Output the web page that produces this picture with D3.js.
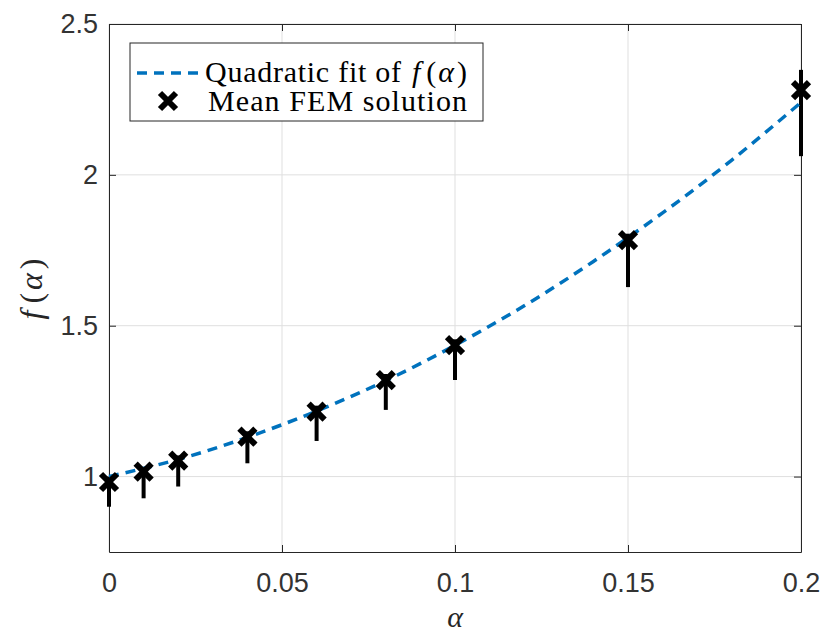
<!DOCTYPE html>
<html>
<head>
<meta charset="utf-8">
<script src="https://cdn.jsdelivr.net/npm/d3@7"></script>
<style>
  body { margin: 0; background: #fff; }
  svg { display: block; }
</style>
</head>
<body>
<div id="graph"></div>
<script>
// alpha values where the FEM was solved
const alphas = [0, 0.01, 0.02, 0.04, 0.06, 0.08, 0.1, 0.15, 0.2];
const meanF = [0.982, 1.016, 1.053, 1.132, 1.215, 1.320, 1.436, 1.784, 2.281];
const lowerF = [0.900, 0.928, 0.967, 1.044, 1.118, 1.221, 1.320, 1.628, 2.062];
const upperF = [1.000, 1.032, 1.070, 1.150, 1.235, 1.340, 1.455, 1.805, 2.348];

// quadratic fit
const fitAlpha = [0, 0.02, 0.04, 0.06, 0.08, 0.1, 0.12, 0.14, 0.16, 0.18, 0.2];
const fitF = [1.0, 1.057, 1.130, 1.217, 1.318, 1.435, 1.566, 1.713, 1.874, 2.049, 2.24];

const xTicks = [0, 0.05, 0.1, 0.15, 0.2];
const yTicks = [1, 1.5, 2, 2.5];

const width = 827, height = 634;
const plotL = 109, plotR = 801, plotT = 24, plotB = 552;

const svg = d3.select('#graph').html("")
  .append('svg')
  .attr('width', width)
  .attr('height', height);

const x = d3.scaleLinear().domain([0, 0.2]).range([plotL, plotR]);
const y = d3.scaleLinear().domain([0.75, 2.5]).range([plotB, plotT]);

const axisCol = '#262626';
const serif = '"Liberation Serif", "DejaVu Serif", serif';

// grid
svg.append('g').selectAll('line.gx')
  .data(xTicks).enter().append('line')
  .attr('x1', d => x(d)).attr('x2', d => x(d))
  .attr('y1', plotT).attr('y2', plotB)
  .attr('stroke', '#dfdfdf').attr('stroke-width', 1);
svg.append('g').selectAll('line.gy')
  .data(yTicks).enter().append('line')
  .attr('x1', plotL).attr('x2', plotR)
  .attr('y1', d => y(d)).attr('y2', d => y(d))
  .attr('stroke', '#dfdfdf').attr('stroke-width', 1);

// axes, ticks pointing inward
const tickFont = g => g.selectAll('text')
  .attr('font-family', '"Liberation Sans", Arial, sans-serif')
  .attr('font-size', 27)
  .attr('fill', '#333');

svg.append('g')
  .attr('transform', `translate(0,${plotB})`)
  .call(d3.axisBottom(x).tickValues(xTicks).tickFormat(d3.format('')).tickSizeInner(-7).tickSizeOuter(0).tickPadding(21))
  .call(g => g.select('.domain').attr('stroke', axisCol))
  .call(g => g.selectAll('line').attr('stroke', axisCol))
  .call(tickFont);

svg.append('g')
  .attr('transform', `translate(0,${plotT})`)
  .call(d3.axisTop(x).tickValues(xTicks).tickFormat('').tickSizeInner(-7).tickSizeOuter(0))
  .call(g => g.select('.domain').attr('stroke', axisCol))
  .call(g => g.selectAll('line').attr('stroke', axisCol));

svg.append('g')
  .attr('transform', `translate(${plotL},0)`)
  .call(d3.axisLeft(y).tickValues(yTicks).tickFormat(d3.format('')).tickSizeInner(-7).tickSizeOuter(0).tickPadding(11))
  .call(g => g.select('.domain').attr('stroke', axisCol))
  .call(g => g.selectAll('line').attr('stroke', axisCol))
  .call(tickFont);

svg.append('g')
  .attr('transform', `translate(${plotR},0)`)
  .call(d3.axisRight(y).tickValues(yTicks).tickFormat('').tickSizeInner(-7).tickSizeOuter(0))
  .call(g => g.select('.domain').attr('stroke', axisCol))
  .call(g => g.selectAll('line').attr('stroke', axisCol));

// error bars
svg.append('g').selectAll('line.err')
  .data(alphas).enter().append('line')
  .attr('x1', d => x(d)).attr('x2', d => x(d))
  .attr('y1', (d, i) => y(lowerF[i]))
  .attr('y2', (d, i) => y(upperF[i]))
  .attr('stroke', '#000').attr('stroke-width', 4);

// quadratic fit
const line = d3.line()
  .x(d => x(d[0]))
  .y(d => y(d[1]))
  .curve(d3.curveNatural);
svg.append('path')
  .datum(fitAlpha.map((a, i) => [a, fitF[i]]))
  .attr('d', line)
  .attr('fill', 'none')
  .attr('stroke', '#0072BD')
  .attr('stroke-width', 3.5)
  .attr('stroke-dasharray', '10,7');

// markers
const cross = 'M-8,-8L8,8M-8,8L8,-8';
svg.append('g').selectAll('path.mk')
  .data(alphas).enter().append('path')
  .attr('d', cross)
  .attr('transform', (d, i) => `translate(${x(d)},${y(meanF[i])})`)
  .attr('stroke', '#000').attr('stroke-width', 6).attr('fill', 'none');

// mixed upright/italic text as separate pieces laid side by side
function mathText(g, parts, size, col) {
  let cx = 0;
  parts.forEach(([s, it, gap, fit]) => {
    cx += gap || 0;
    const t = g.append('text')
      .attr('x', cx).attr('y', 0)
      .attr('font-family', serif).attr('font-size', size).attr('fill', col)
      .attr('font-style', it ? 'italic' : 'normal')
      .text(s);
    if (fit) t.attr('textLength', fit).attr('lengthAdjust', 'spacing');
    cx += fit || t.node().getComputedTextLength();
  });
  return cx;
}

// legend
const lg = svg.append('g');
lg.append('rect')
  .attr('x', 130).attr('y', 43).attr('width', 353).attr('height', 78)
  .attr('fill', '#fff').attr('stroke', axisCol).attr('stroke-width', 1);
lg.append('line')
  .attr('x1', 137).attr('x2', 200).attr('y1', 73).attr('y2', 73)
  .attr('stroke', '#0072BD').attr('stroke-width', 3.5).attr('stroke-dasharray', '10,7');
lg.append('path')
  .attr('d', cross)
  .attr('transform', 'translate(168,101)')
  .attr('stroke', '#000').attr('stroke-width', 6).attr('fill', 'none');

const row1 = lg.append('g').attr('transform', 'translate(205,82)');
mathText(row1, [['Quadratic fit of', false, 0, 196], ['f', true, 11], ['(', false, 6], ['α', true, 2], [')', false, 3]], 30, '#000');

lg.append('text')
  .attr('x', 208).attr('y', 111)
  .attr('font-family', serif).attr('font-size', 30).attr('fill', '#000')
  .attr('textLength', 259).attr('lengthAdjust', 'spacing')
  .text('Mean FEM solution');

// axis labels
svg.append('text')
  .attr('x', (plotL + plotR) / 2).attr('y', 627)
  .attr('text-anchor', 'middle')
  .attr('font-family', serif).attr('font-style', 'italic')
  .attr('font-size', 30).attr('fill', axisCol)
  .text('α');

const ylab = svg.append('g');
const ylen = mathText(ylab, [['f', true], ['(', false, 7], ['α', true, 3], [')', false, 4]], 32, axisCol);
ylab.attr('transform', `translate(42,${289 + ylen / 2}) rotate(-90)`);
</script>
</body>
</html>
